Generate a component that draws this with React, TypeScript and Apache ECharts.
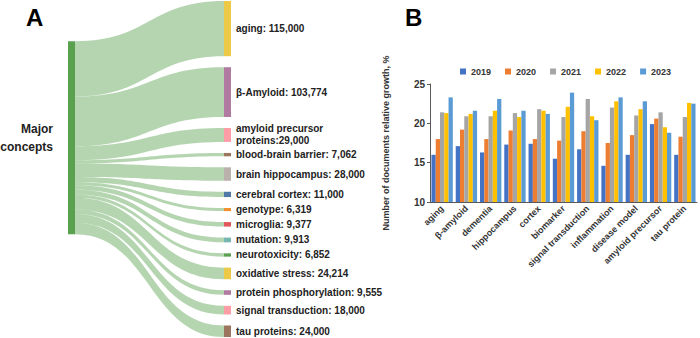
import React, { useEffect, useRef } from 'react';
import * as echarts from 'echarts';

const sourceName = 'Major concepts';
const targetNames = [
  'aging', 'β-Amyloid', 'amyloid precursor proteins', 'blood-brain barrier', 'brain hippocampus',
  'cerebral cortex', 'genotype', 'microglia', 'mutation', 'neurotoxicity', 'oxidative stress',
  'protein phosphorylation', 'signal transduction', 'tau proteins',
];
const targetValues = [115000, 103774, 29000, 7062, 28000, 11000, 6319, 9377, 9913, 6852, 24214, 9555, 18000, 24000];
const targetColors = [
  '#EDC948', '#B07AA1', '#FF9DA7', '#9C755F', '#BAB0AC', '#4E79A7', '#F28E2B',
  '#E15759', '#76B7B2', '#59A14F', '#EDC948', '#B07AA1', '#FF9DA7', '#9C755F',
];

const categories = [
  'aging', 'β-amyloid', 'dementia', 'hippocampus', 'cortex', 'biomarker',
  'signal transduction', 'inflammation', 'disease model', 'amyloid precursor', 'tau protein',
];
const years = ['2019', '2020', '2021', '2022', '2023'];
const growth2019 = [16.0, 17.1, 16.3, 17.3, 17.4, 15.5, 16.7, 14.6, 16.0, 19.9, 16.0];
const growth2020 = [18.0, 19.2, 18.0, 19.1, 18.0, 17.8, 19.0, 17.5, 18.5, 20.6, 18.3];
const growth2021 = [21.4, 20.9, 20.9, 21.3, 21.8, 20.8, 23.1, 22.0, 21.0, 21.4, 20.8];
const growth2022 = [21.3, 21.2, 21.6, 20.8, 21.6, 22.1, 20.9, 22.8, 21.8, 19.5, 22.6];
const growth2023 = [23.3, 21.6, 23.1, 21.6, 21.2, 23.9, 20.4, 23.3, 22.8, 18.8, 22.5];
const yearColors = ['#4472C4', '#ED7D31', '#A5A5A5', '#FFC000', '#5B9BD5'];
const yTicks = { min: 10, max: 25, interval: 5 };

const fmt = (v: number) => v.toLocaleString('en-US');

export default function App() {
  const ref = useRef<HTMLDivElement>(null);
  useEffect(() => {
    if (!ref.current) return;
    const chart = echarts.init(ref.current, undefined, { renderer: 'svg' });
    const growth = [growth2019, growth2020, growth2021, growth2022, growth2023];
    const font = 'Liberation Sans, Arial, sans-serif';

    // sankey geometry (series box) and derived source position (weighted centre of its targets)
    const sTop = 1, sBottom = 1, chartH = 338, nodeGap = 11;
    const H = chartH - sTop - sBottom;
    const total = targetValues.reduce((a, b) => a + b, 0);
    const ky = (H - (targetValues.length - 1) * nodeGap) / total;
    let acc = 0, wsum = 0;
    targetValues.forEach((v) => {
      const dy = v * ky;
      wsum += v * (acc + dy / 2);
      acc += dy + nodeGap;
    });
    const srcTop = wsum / total - (total * ky) / 2;

    const nodes: any[] = [
      {
        name: sourceName,
        localY: srcTop / H,
        itemStyle: { color: '#59A14F' },
        label: {
          position: 'left',
          distance: 15,
          formatter: 'Major\nconcepts',
          fontSize: 12,
          lineHeight: 18,
          align: 'right',
        },
      },
      ...targetNames.map((n, i) => ({ name: n, itemStyle: { color: targetColors[i] } })),
    ];
    const links = targetNames.map((n, i) => ({ source: sourceName, target: n, value: targetValues[i] }));

    chart.setOption({
      animation: false,
      textStyle: { fontFamily: font },
      graphic: [
        { type: 'text', left: 26, top: 5, style: { text: 'A', fontSize: 24, fontWeight: 'bold', fill: '#000', fontFamily: font } },
        { type: 'text', left: 405, top: 5, style: { text: 'B', fontSize: 24, fontWeight: 'bold', fill: '#000', fontFamily: font } },
      ],
      legend: {
        data: years,
        left: 455,
        top: 62,
        itemWidth: 6,
        itemHeight: 6,
        itemGap: 14,
        icon: 'rect',
        textStyle: { fontSize: 9, fontWeight: 'bold', color: '#333' },
      },
      grid: { left: 430, right: 3, top: 84, bottom: 136 },
      xAxis: {
        type: 'category',
        data: categories,
        axisLine: { lineStyle: { color: '#595959' } },
        axisTick: { length: 3, lineStyle: { color: '#595959' } },
        axisLabel: { interval: 0, rotate: 45, fontSize: 9, fontWeight: 'bold', color: '#333', margin: 5 },
      },
      yAxis: {
        type: 'value',
        min: yTicks.min,
        max: yTicks.max,
        interval: yTicks.interval,
        name: 'Number of documents relative growth, %',
        nameLocation: 'middle',
        nameGap: 40,
        nameTextStyle: { fontSize: 9, fontWeight: 'bold', color: '#333' },
        axisLine: { show: true, lineStyle: { color: '#595959' } },
        axisTick: { show: true, length: 3, lineStyle: { color: '#595959' } },
        splitLine: { show: false },
        axisLabel: { fontSize: 10, fontWeight: 'bold', color: '#333', margin: 5 },
      },
      series: [
        {
          type: 'sankey',
          left: 68,
          top: sTop,
          right: 469,
          bottom: sBottom,
          nodeWidth: 7,
          nodeGap,
          layoutIterations: 0,
          draggable: false,
          data: nodes,
          links,
          emphasis: { disabled: true },
          lineStyle: { color: 'source', opacity: 0.45, curveness: 0.5 },
          label: {
            position: 'right',
            distance: 5,
            fontSize: 10,
            fontWeight: 'bold',
            color: '#222',
            lineHeight: 12,
            formatter: (p: any) => {
              const i = targetNames.indexOf(p.name);
              if (i < 0) return p.name;
              if (p.name === 'amyloid precursor proteins') return `amyloid precursor\nproteins:${fmt(targetValues[i])}`;
              return `${p.name}: ${fmt(targetValues[i])}`;
            },
          },
        },
        ...years.map((y, k) => ({
          type: 'bar',
          name: y,
          data: growth[k],
          barGap: '0%',
          barCategoryGap: '12%',
          itemStyle: { color: yearColors[k] },
        })),
      ],
    });
    return () => chart.dispose();
  }, []);
  return <div ref={ref} style={{ position: 'absolute', left: 0, top: 0, width: 700, height: 338 }} />;
}
